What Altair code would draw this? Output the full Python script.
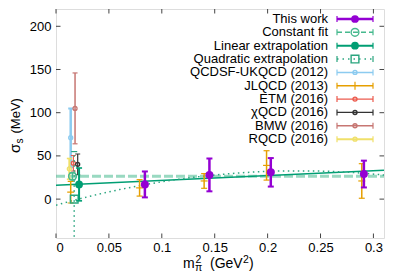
import altair as alt
import pandas as pd

FONT = "Liberation Sans"

# ---------------- data ----------------
work_x = [0.084, 0.145, 0.203, 0.291]
work_y = [17.0, 28.0, 31.0, 29.0]
work_err = [15.0, 19.0, 16.5, 15.5]

jlqcd_x = [0.0139, 0.079, 0.140, 0.199, 0.289]
jlqcd_y = [8.0, 13.0, 21.0, 39.0, 21.0]
jlqcd_err = [12.5, 9.5, 8.5, 17.0, 20.0]

other_names = ["QCDSF-UKQCD (2012)", "ETM (2016)", "χQCD (2016)", "BMW (2016)", "RQCD (2016)"]
other_x = [0.0139, 0.0164, 0.0205, 0.0180, 0.0126]
other_y = [71.0, 41.5, 40.2, 105.0, 35.0]
other_err = [34.0, 9.0, 12.0, 41.0, 12.0]
other_colors = ["#8ccbf0", "#ec5b4e", "#333333", "#c77672", "#f0e06a"]
other_widths = [2.5, 1.2, 1.2, 1.5, 2.0]

const_line_x = [0.0, 0.31]
const_line_y = [26.4, 26.4]
const_pt = [0.0156, 26.4, 4.0]

lin_line_x = [0.0, 0.31]
lin_line_y = [16.0, 33.4]
lin_pt = [0.0218, 17.0, 19.0]

quad_x = [0.0, 0.02, 0.04, 0.06, 0.08, 0.10, 0.13, 0.16, 0.19, 0.22, 0.25, 0.28, 0.31]
quad_y = [-7.0, -0.4, 5.6, 11.0, 15.8, 20.0, 25.2, 29.0, 31.5, 32.6, 32.4, 30.8, 27.9]
quad_pt = [0.0172, 0.0, 55.0]

x_ticks = [0, 0.05, 0.1, 0.15, 0.2, 0.25, 0.3]
y_ticks = [0, 50, 100, 150, 200]

legend_labels = ["This work", "Constant fit", "Linear extrapolation", "Quadratic extrapolation",
                 "QCDSF-UKQCD (2012)", "JLQCD (2013)", "ETM (2016)", "χQCD (2016)",
                 "BMW (2016)", "RQCD (2016)"]

# ---------------- geometry ----------------
W, H = 328, 229
XD = [0, 0.31]
YD = [-45, 220]
xs = alt.Scale(domain=XD, nice=False, zero=False)
ys = alt.Scale(domain=YD, nice=False, zero=False)

PURPLE = "#9400d3"
CFIT = "#46b98e"
LIN = "#009e73"
QUAD = "#2aa57f"
ORANGE = "#e69f00"


def ebars(xv, yv, ev, color, width, cap=6, dash=None):
    df = pd.DataFrame({"x": xv, "y": yv, "e": ev})
    df["lo"] = df["y"] - df["e"]
    df["hi"] = df["y"] + df["e"]
    rule_kw = dict(color=color, strokeWidth=width, clip=True)
    if dash:
        rule_kw["strokeDash"] = dash
    base = alt.Chart(df)
    bar = base.mark_rule(**rule_kw).encode(
        x=alt.X("x:Q", scale=xs), y=alt.Y("lo:Q", scale=ys), y2="hi:Q")
    c1 = base.mark_tick(orient="horizontal", size=cap, thickness=max(1, width * 0.8),
                        color=color, opacity=1, clip=True).encode(
        x=alt.X("x:Q", scale=xs), y=alt.Y("lo:Q", scale=ys))
    c2 = base.mark_tick(orient="horizontal", size=cap, thickness=max(1, width * 0.8),
                        color=color, opacity=1, clip=True).encode(
        x=alt.X("x:Q", scale=xs), y=alt.Y("hi:Q", scale=ys))
    return [bar, c1, c2]


def points(xv, yv, color, shape="circle", size=50, filled=True, sw=1.2):
    df = pd.DataFrame({"x": xv, "y": yv})
    kw = dict(shape=shape, size=size, filled=filled, color=color, opacity=1, clip=True)
    if not filled:
        kw["strokeWidth"] = sw
    return alt.Chart(df).mark_point(**kw).encode(
        x=alt.X("x:Q", scale=xs), y=alt.Y("y:Q", scale=ys))


def line(xv, yv, color, width, dash=None, opacity=1.0, interp="linear"):
    df = pd.DataFrame({"x": xv, "y": yv})
    kw = dict(color=color, strokeWidth=width, opacity=opacity, clip=True, interpolate=interp)
    if dash:
        kw["strokeDash"] = dash
    return alt.Chart(df).mark_line(**kw).encode(
        x=alt.X("x:Q", scale=xs), y=alt.Y("y:Q", scale=ys))


layers = []

# axes (labels only) carried by an invisible layer
ax_df = pd.DataFrame({"x": XD, "y": YD})
layers.append(
    alt.Chart(ax_df).mark_point(opacity=0).encode(
        x=alt.X("x:Q", scale=xs,
                axis=alt.Axis(values=x_ticks, format="~g", title=None, grid=False, domain=False,
                              ticks=False, tickSize=0, labelPadding=3, labelFontSize=13,
                              labelFont=FONT, labelColor="black")),
        y=alt.Y("y:Q", scale=ys,
                axis=alt.Axis(values=y_ticks, title=None, grid=False, domain=False,
                              ticks=False, tickSize=0, labelPadding=5, labelFontSize=13,
                              labelFont=FONT, labelColor="black")),
    )
)

# inward ticks on all four sides
xt = pd.DataFrame({"x": x_ticks})
yt = pd.DataFrame({"y": y_ticks})
TK = 4.5
for y1, y2 in [(H, H - TK), (0, TK)]:
    layers.append(alt.Chart(xt).mark_rule(color="#444", strokeWidth=1).encode(
        x=alt.X("x:Q", scale=xs), y=alt.value(y1), y2=alt.value(y2)))
for x1, x2 in [(0, TK), (W, W - TK)]:
    layers.append(alt.Chart(yt).mark_rule(color="#444", strokeWidth=1).encode(
        y=alt.Y("y:Q", scale=ys), x=alt.value(x1), x2=alt.value(x2)))

# fit lines
layers.append(line(const_line_x, const_line_y, CFIT, 3, dash=[9, 3], opacity=0.55))
layers.append(line(lin_line_x, lin_line_y, LIN, 1.5))
layers.append(line(quad_x, quad_y, QUAD, 1.5, dash=[1.5, 3.5], interp="monotone"))

# JLQCD
layers += ebars(jlqcd_x, jlqcd_y, jlqcd_err, ORANGE, 1.5, cap=6)
jl_df = pd.DataFrame({"x": jlqcd_x, "y": jlqcd_y})
layers.append(alt.Chart(jl_df).mark_tick(orient="horizontal", size=7, thickness=1.2,
                                         color=ORANGE, opacity=1, clip=True).encode(
    x=alt.X("x:Q", scale=xs), y=alt.Y("y:Q", scale=ys)))

# other collaborations
for i in range(len(other_names)):
    layers += ebars([other_x[i]], [other_y[i]], [other_err[i]], other_colors[i],
                    other_widths[i], cap=5)
    layers.append(points([other_x[i]], [other_y[i]], other_colors[i], size=16,
                         filled=False, sw=1.3))

# extrapolated points
layers += ebars([quad_pt[0]], [quad_pt[1]], [quad_pt[2]], QUAD, 1.5, cap=6, dash=[1.5, 3.5])
layers.append(points([quad_pt[0]], [quad_pt[1]], QUAD, shape="square", size=60,
                     filled=False, sw=1.3))
layers += ebars([const_pt[0]], [const_pt[1]], [const_pt[2]], CFIT, 1.5, cap=6)
layers.append(points([const_pt[0]], [const_pt[1]], CFIT, size=60, filled=False, sw=1.5))
layers += ebars([lin_pt[0]], [lin_pt[1]], [lin_pt[2]], LIN, 2, cap=6)
layers.append(points([lin_pt[0]], [lin_pt[1]], LIN, size=60, filled=True))

# this work
layers += ebars(work_x, work_y, work_err, PURPLE, 2.5, cap=6)
layers.append(points(work_x, work_y, PURPLE, size=64, filled=True))

# ---------------- legend (drawn in pixel space) ----------------
one = pd.DataFrame({"k": [0]})
LY0, LDY = 10.0, 13.35
LX_TEXT, LX1, LX2 = 272, 281, 317
LXC = (LX1 + LX2) / 2

leg_styles = [
    dict(color=PURPLE, width=2.5, dash=None, marker=("circle", 60, True)),
    dict(color=CFIT, width=1.5, dash=[5, 3], marker=("circle", 60, False)),
    dict(color=LIN, width=2.0, dash=None, marker=("circle", 60, True)),
    dict(color=QUAD, width=1.5, dash=[1.5, 4], marker=("square", 60, False)),
    dict(color=other_colors[0], width=1.5, dash=None, marker=("circle", 16, False)),
    dict(color=ORANGE, width=1.5, dash=None, marker=("plus", 0, False)),
    dict(color=other_colors[1], width=1.2, dash=None, marker=("circle", 16, False)),
    dict(color=other_colors[2], width=1.2, dash=None, marker=("circle", 16, False)),
    dict(color=other_colors[3], width=1.5, dash=None, marker=("circle", 16, False)),
    dict(color=other_colors[4], width=2.0, dash=None, marker=("circle", 16, False)),
]

for i, (lab, st) in enumerate(zip(legend_labels, leg_styles)):
    yy = LY0 + i * LDY
    tdf = pd.DataFrame({"t": [lab]})
    layers.append(alt.Chart(tdf).mark_text(align="right", baseline="middle", font=FONT,
                                           fontSize=13, color="black").encode(
        text="t:N", x=alt.value(LX_TEXT), y=alt.value(yy)))
    rkw = dict(color=st["color"], strokeWidth=st["width"])
    if st["dash"]:
        rkw["strokeDash"] = st["dash"]
    layers.append(alt.Chart(one).mark_rule(**rkw).encode(
        x=alt.value(LX1), x2=alt.value(LX2), y=alt.value(yy)))
    for cx in (LX1, LX2):
        layers.append(alt.Chart(one).mark_rule(color=st["color"], strokeWidth=1.2).encode(
            x=alt.value(cx), y=alt.value(yy - 3), y2=alt.value(yy + 3)))
    shape, size, filled = st["marker"]
    if shape == "plus":
        layers.append(alt.Chart(one).mark_rule(color=st["color"], strokeWidth=1.2).encode(
            x=alt.value(LXC), y=alt.value(yy - 4), y2=alt.value(yy + 4)))
    else:
        mkw = dict(shape=shape, size=size, filled=filled, color=st["color"], opacity=1)
        if not filled:
            mkw["strokeWidth"] = 1.4
        layers.append(alt.Chart(one).mark_point(**mkw).encode(
            x=alt.value(LXC), y=alt.value(yy)))

# ---------------- axis titles (with sub/superscripts) ----------------
def txt(s, x, y, size=13, angle=0, align="left", baseline="alphabetic"):
    kw = dict(align=align, baseline=baseline, font=FONT, fontSize=size, color="black")
    if angle:
        kw["angle"] = angle
    return alt.Chart(pd.DataFrame({"t": [s]})).mark_text(**kw).encode(
        text="t:N", x=alt.value(x), y=alt.value(y))

# y title: sigma_s (MeV), reading upward
YB = -36.5
layers.append(txt("σ", YB, 144, size=15, angle=270))
layers.append(txt("s", YB + 3, 134.5, size=10, angle=270))
layers.append(txt("(MeV)", YB, 124.5, size=13, angle=270))

# x title: m_pi^2 (GeV^2)
XB = 259
X0 = 127
layers.append(txt("m", X0, XB, size=14))
layers.append(txt("π", X0 + 12, XB + 3, size=10.5))
layers.append(txt("2", X0 + 12.5, XB - 5.5, size=10.5))
layers.append(txt("(GeV", X0 + 27, XB, size=14))
layers.append(txt("2", X0 + 60, XB - 5.5, size=10.5))
layers.append(txt(")", X0 + 66, XB, size=14))

chart = alt.layer(*layers).properties(
    width=W, height=H,
    autosize=alt.AutoSizeParams(type="none"),
    padding={"left": 48, "top": 1, "right": 7, "bottom": 33},
).configure_view(stroke="#555", strokeWidth=1.5).configure(background="white")

chart.save("out.html", embed_options={"renderer": "svg", "actions": False})
